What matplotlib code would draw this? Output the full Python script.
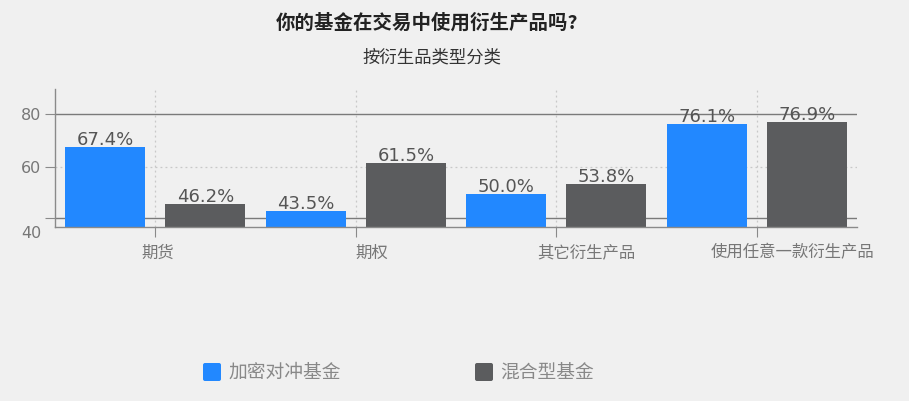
import matplotlib
matplotlib.use('Agg')
import matplotlib.pyplot as plt
from matplotlib.patches import FancyBboxPatch
from matplotlib.transforms import ScaledTranslation

# data
categories = ['期货', '期权', '其它衍生产品', '使用任意一款衍生产品']
series_names = ['加密对冲基金', '混合型基金']
hedge = [67.4, 43.5, 50.0, 76.1]
mixed = [46.2, 61.5, 53.8, 76.9]

# style
blue = '#2288ff'
gray = '#5b5c5e'
bg = '#f0f0f0'
cjk = ['Noto Sans CJK SC', 'DejaVu Sans']
plt.rcParams['font.family'] = cjk

W, H = 909, 401
fig = plt.figure(figsize=(W / 100, H / 100), dpi=100, facecolor=bg)
ax = fig.add_axes([55 / W, (H - 227) / H, (857 - 55) / W, (227 - 89) / H])
ax.set_facecolor(bg)

# bars: each category has two slots
xs_h = [2 * i for i in range(len(categories))]
xs_m = [2 * i + 1 for i in range(len(categories))]
ymin = 37.5
ax.set_xlim(-0.5, 7.5)
ax.set_ylim(ymin, 89.4)

# grid and reference lines
for gx in [2 * i + 0.5 for i in range(len(categories))]:
    ax.axvline(gx, color='#c8c8c8', lw=0.9, ls=(0, (1.5, 2.5)), zorder=0)
ax.axhline(60, color='#c8c8c8', lw=0.9, ls=(0, (1.5, 2.5)), zorder=0)
ax.axhline(80, color='#7a7a7a', lw=1.0, zorder=1)
ax.axhline(41, color='#7a7a7a', lw=1.0, zorder=1)

ax.bar(xs_h, [v - ymin for v in hedge], bottom=ymin, width=0.8, color=blue, zorder=2)
ax.bar(xs_m, [v - ymin for v in mixed], bottom=ymin, width=0.8, color=gray, zorder=2)

for x, v in list(zip(xs_h, hedge)) + list(zip(xs_m, mixed)):
    ax.annotate('%.1f%%' % v, (x, v), xytext=(0, 2), textcoords='offset pixels',
                ha='center', va='baseline', fontsize=13, color='#555555',
                family='DejaVu Sans', zorder=3)

# axes
for s in ['top', 'right']:
    ax.spines[s].set_visible(False)
for s in ['left', 'bottom']:
    ax.spines[s].set_color('#8a8a8a')
    ax.spines[s].set_linewidth(1.0)

ax.set_yticks([41, 60, 80])
ax.set_yticklabels(['40', '60', '80'], family='DejaVu Sans', fontsize=11.5, color='#777777')
ax.tick_params(axis='y', length=7, color='#8a8a8a', pad=3)
lab40 = ax.get_yticklabels()[0]
lab40.set_transform(lab40.get_transform() + ScaledTranslation(0, -0.14, fig.dpi_scale_trans))
ax.set_xticks([2 * i + 0.5 for i in range(len(categories))])
ax.set_xticklabels([])
ax.tick_params(axis='x', length=7, color='#8a8a8a', direction='out')

# category labels sit under the axis, a bit right of the ticks
label_x = [0.52, 2.66, 4.8, 6.86]
for lx, c in zip(label_x, categories):
    ax.text(lx, ymin - 26 / 2.65, c, ha='center', va='center', fontsize=11.8,
            color='#777777', clip_on=False)

# titles
fig.text(427 / W, 1 - 23 / H, '你的基金在交易中使用衍生产品吗?', ha='center', va='center',
         fontsize=14, fontweight='bold', color='#222222')
fig.text(432 / W, 1 - 58 / H, '按衍生品类型分类', ha='center', va='center',
         fontsize=12.5, color='#333333')

# legend
for px, col, name in [(203, blue, series_names[0]), (475, gray, series_names[1])]:
    box = FancyBboxPatch((px + 2, H - 381 + 2), 14, 14, boxstyle='round,pad=2',
                         facecolor=col, edgecolor='none', transform=None)
    fig.add_artist(box)
    fig.text((px + 25) / W, 1 - 372 / H, name, ha='left', va='center',
             fontsize=13.5, color='#888888')

fig.savefig('out.png', dpi=100, facecolor=bg)
